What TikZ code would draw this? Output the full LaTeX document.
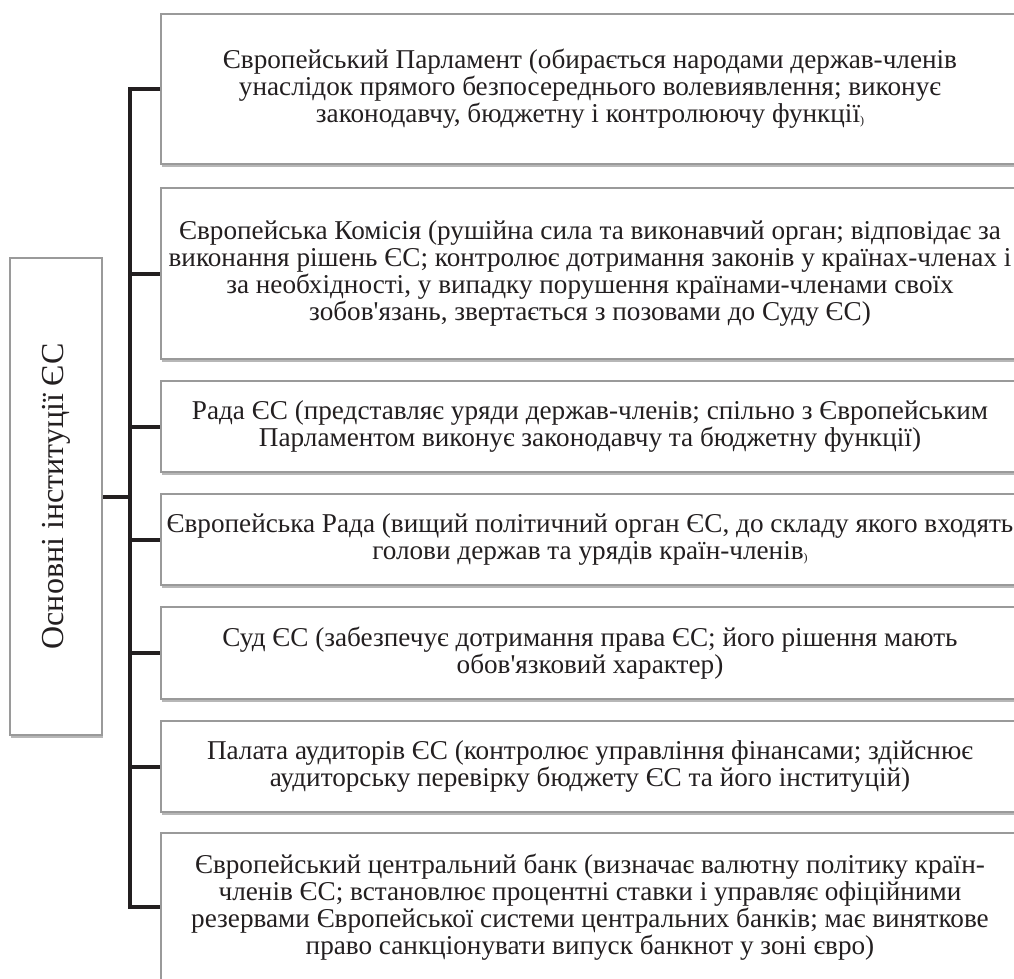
\documentclass[tikz,border=0pt]{standalone}
\usepackage{fontspec}
\setmainfont{Liberation Serif}
\usetikzlibrary{shadows}
\definecolor{ink}{HTML}{231F20}
\definecolor{frame}{HTML}{9A9A9A}
\newcommand{\smallparen}{\raisebox{-2pt}{\fontsize{12}{12}\selectfont)}}
\newcommand{\apos}{\textquotesingle}
\tikzset{
  boxbase/.style={draw=frame, line width=1.5pt, fill=white, inner xsep=0pt, inner ysep=0pt,
    align=center, text=ink,
    drop shadow={shadow xshift=1pt, shadow yshift=-2.5pt, opacity=0.4, fill=black!70}},
  inst/.style={boxbase, minimum width=858pt, font=\fontsize{27.2}{27}\selectfont},
  rootbox/.style={boxbase, minimum width=92pt, minimum height=477pt},
  link/.style={draw=ink, line width=4pt, line join=miter},
}
\begin{document}
\begin{tikzpicture}[x=1pt,y=-1pt]
\useasboundingbox (0,0) rectangle (1014,978);
\clip (0,0) rectangle (1014,978);
\fill[white] (0,0) rectangle (1014,978);

\coordinate (bus) at (130,0);

\node[inst, minimum height=150pt] (p1) at (590,89) {Європейський Парламент (обирається народами держав-членів\\унаслідок прямого безпосереднього волевиявлення; виконує\\законодавчу, бюджетну і контролюючу функції\smallparen};
\node[inst, minimum height=171pt] (p2) at (590,273.5) {Європейська Комісія (рушійна сила та виконавчий орган; відповідає за\\виконання рішень ЄС; контролює дотримання законів у країнах-членах і\\за необхідності, у випадку порушення країнами-членами своїх\\зобов\apos язань, звертається з позовами до Суду ЄС)};
\node[inst, minimum height=91pt] (p3) at (590,426.5) {Рада ЄС (представляє уряди держав-членів; спільно з Європейським\\Парламентом виконує законодавчу та бюджетну функції)};
\node[inst, minimum height=91pt] (p4) at (590,539.5) {Європейська Рада (вищий політичний орган ЄС, до складу якого входять\\голови держав та урядів країн-членів\smallparen};
\node[inst, minimum height=92pt] (p5) at (590,653) {Суд ЄС (забезпечує дотримання права ЄС; його рішення мають\\обов\apos язковий характер)};
\node[inst, minimum height=91pt] (p6) at (590,766.5) {Палата аудиторів ЄС (контролює управління фінансами; здійснює\\аудиторську перевірку бюджету ЄС та його інституцій)};
\node[inst, minimum height=148pt] (p7) at (590,907) {Європейський центральний банк (визначає валютну політику країн-\\членів ЄС; встановлює процентні ставки і управляє офіційними\\резервами Європейської системи центральних банків; має виняткове\\право санкціонувати випуск банкнот у зоні євро)};

\node[rootbox] (root) at (56,496.5) {\rotatebox{90}{\fontsize{32}{36}\selectfont Основні інституції ЄС}};

\draw[link] (p1.west) -- (p1.west -| bus) -- (p7.west -| bus) -- (p7.west);
\foreach \n in {p2,p3,p4,p5,p6} {
  \draw[link] (\n.west -| bus) -- (\n.west);
}
\draw[link] (root.east) -- (root.east -| bus);
\end{tikzpicture}
\end{document}
